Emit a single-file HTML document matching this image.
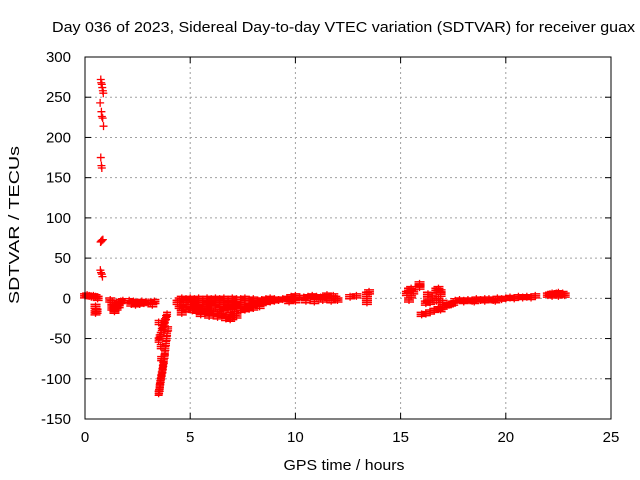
<!DOCTYPE html>
<html><head><meta charset="utf-8"><style>
body{margin:0;background:#fff}
svg{display:block;font-family:"Liberation Sans",sans-serif}
</style></head><body>
<svg id="chart" width="640" height="480" viewBox="0 0 640 480"></svg>
<script>
const xTicks=[0,5,10,15,20,25];
const yTicks=[300,250,200,150,100,50,0,-50,-100,-150];
const spikeT=[0.75,0.77,0.8,0.82,0.85,0.87,0.72,0.78,0.8,0.84,0.88,0.75,0.78,0.8,0.74,0.77,0.8,0.85,0.73,0.76,0.8,0.83];
const spikeV=[272,268,266,262,258,255,243,232,226,224,214,175,165,162,70,71,72,73,35,32,30,27];
const bandT=[0.0,0.1,0.2,0.3,0.4,0.5,0.6,0.5,0.55,0.5,
1.2,1.3,1.4,1.5,1.6,1.7,1.8,1.3,1.4,1.5,1.6,1.4,1.5,
2.1,2.3,2.5,2.7,2.9,2.2,2.4,2.6,2.8,3.0,3.1,3.3,3.2,
4.4,4.5,4.6,4.7,4.8,4.5,4.6,4.7,4.6,4.8,
5.0,5.2,5.4,5.6,5.8,6.0,6.2,6.4,6.6,6.8,7.0,7.2,
5.0,5.2,5.4,5.6,5.8,6.0,6.2,6.4,6.6,6.8,7.0,7.2,
5.0,5.2,5.4,5.6,5.8,6.0,6.2,6.4,6.6,6.8,7.0,7.2,
5.1,5.3,5.5,5.7,5.9,6.1,6.3,6.5,6.7,6.9,7.1,
5.5,5.9,6.3,6.7,6.9,7.0,7.2,
7.4,7.6,7.8,8.0,8.2,8.4,8.6,8.8,9.0,9.2,9.4,
7.4,7.6,7.8,8.0,8.2,8.4,8.6,8.8,9.0,
7.4,7.6,7.8,8.0,8.3,
9.6,9.8,10.0,10.2,9.8,10.0,9.7,
10.4,10.6,10.8,11.0,11.2,11.4,11.6,11.8,10.5,10.9,11.3,11.7,11.5,11.9,12.0,
12.6,12.9,13.4,13.4,13.5,13.4,
15.3,15.4,15.5,15.6,15.4,15.5,15.9,15.9,16.2,16.3,16.4,16.5,16.3,
16.7,16.8,16.9,16.8,16.7,16.9,
16.0,16.2,16.4,16.6,16.8,17.0,17.2,17.4,17.5,17.0,17.3,16.9,
17.6,17.8,18.0,18.2,18.4,18.6,18.8,19.0,19.2,19.4,19.6,19.8,
18.0,18.5,19.0,19.5,
20.0,20.2,20.4,20.6,20.8,21.0,21.2,21.4,
22.0,22.1,22.2,22.3,22.4,22.5,22.6,22.7,22.8,22.2,22.5];
const bandV=[3,4,3,2,3,2,0,-10,-16,-18,
-2,-5,-8,-10,-6,-4,-3,-12,-14,-12,-9,-16,-8,
-3,-4,-5,-4,-5,-7,-8,-7,-6,-5,-5,-4,-8,
-5,-2,0,-3,-1,-10,-12,-8,-18,-14,
0,-1,0,-2,0,-1,0,-1,0,-2,0,-1,
-5,-6,-7,-5,-6,-7,-6,-8,-6,-5,-6,-7,
-10,-11,-12,-11,-13,-12,-12,-14,-13,-12,-11,-12,
-15,-16,-17,-16,-18,-17,-19,-21,-22,-20,-19,
-20,-22,-23,-25,-26,-24,-22,
-1,0,-2,-1,-3,-2,-1,0,-1,-2,-1,
-8,-10,-9,-8,-7,-6,-5,-4,-3,
-15,-14,-13,-12,-10,
0,2,3,1,-2,-3,-4,
1,2,3,2,1,2,0,3,-3,-4,-2,-3,4,0,-2,
2,3,0,5,8,-5,
6,10,3,8,-2,12,14,18,-6,-2,-5,3,5,
10,12,5,0,-3,8,
-20,-19,-17,-15,-13,-11,-9,-7,-6,-5,-8,-14,
-3,-2,-3,-2,-3,-1,-2,-1,-1,-2,0,-1,
-4,-4,-3,-3,
0,1,0,2,1,2,1,3,
4,5,6,5,6,7,5,6,4,3,3];
const dipT=[3.9,3.85,3.8,3.75,3.7,3.65,3.6,3.55,3.5,3.5,
3.95,3.9,3.88,3.85,3.82,3.8,3.78,3.75,3.72,3.7,3.68,3.65,3.62,3.6,3.58,3.56,3.55,3.55,3.52,3.5,3.6,3.62];
const dipV=[-20,-24,-28,-32,-36,-40,-45,-48,-52,-30,
-38,-44,-50,-56,-62,-68,-72,-78,-82,-86,-90,-94,-98,-102,-105,-108,-110,-113,-116,-118,-60,-75];

const svg=document.getElementById('chart');
const NS='http://www.w3.org/2000/svg';
const L=85,R=611,T=57,B=419;
const xs=t=>L+(t-0)/25*(R-L);
const ys=v=>B-(v+150)/450*(B-T);
function mk(tag,attrs,parent){const e=document.createElementNS(NS,tag);for(const k in attrs)e.setAttribute(k,attrs[k]);(parent||svg).appendChild(e);return e;}

const title=mk('text',{x:52,y:32,'font-size':15,fill:'#000',textLength:583,lengthAdjust:'spacingAndGlyphs'});


title.textContent='Day 036 of 2023, Sidereal Day-to-day VTEC variation (SDTVAR) for receiver guax';

const grid=mk('g',{stroke:'#a0a0a0','stroke-width':1,'stroke-dasharray':'2,3'});


xTicks.forEach(t=>{if(t>0&&t<25)mk('line',{x1:xs(t),x2:xs(t),y1:T,y2:B},grid);});
yTicks.forEach(v=>{if(v>-150&&v<300)mk('line',{x1:L,x2:R,y1:ys(v),y2:ys(v)},grid);});

const ticks=mk('g',{stroke:'#000','stroke-width':1});


const xl=mk('g',{'font-size':15,'text-anchor':'middle'});


xTicks.forEach(t=>{const x=xs(t);mk('line',{x1:x,x2:x,y1:B,y2:B-6},ticks);mk('line',{x1:x,x2:x,y1:T,y2:T+6},ticks);
 const s=mk('text',{x:x,y:B+23},xl);s.textContent=t;});
const yl=mk('g',{'font-size':15,'text-anchor':'end'});


yTicks.forEach(v=>{const y=ys(v);mk('line',{x1:L,x2:L+6,y1:y,y2:y},ticks);mk('line',{x1:R,x2:R-6,y1:y,y2:y},ticks);
 const s=mk('text',{x:L-14,y:y+5},yl);s.textContent=v;});

const pts=mk('g',{stroke:'#ff0000','stroke-width':1.3});


function plus(t,v){const x=xs(t),y=ys(v);mk('path',{d:`M${x-4} ${y}H${x+4}M${x} ${y-4}V${y+4}`},pts);}
function drawSet(T_,V_){for(let i=0;i<T_.length;i++){plus(T_[i],V_[i]);}}
drawSet(spikeT,spikeV);drawSet(bandT,bandV);drawSet(dipT,dipV);
const thick=mk('g',{stroke:'#ff0000','stroke-width':1.5});


for(let i=0;i<bandT.length;i++){const x=xs(bandT[i]),y=ys(bandV[i]);mk('path',{d:`M${x-5} ${y-2}H${x+5}M${x-5} ${y+2}H${x+5}M${x-5} ${y}H${x+5}`},thick);}
for(let i=0;i<dipT.length;i++){const x=xs(dipT[i]),y=ys(dipV[i]);mk('path',{d:`M${x-4} ${y-2}H${x+4}M${x-4} ${y+2}H${x+4}`},thick);}

mk('rect',{x:L,y:T,width:R-L,height:B-T,fill:'none',stroke:'#000','stroke-width':1});

const xt=mk('text',{x:344,y:470,'text-anchor':'middle','font-size':15,textLength:121,lengthAdjust:'spacingAndGlyphs'});


xt.textContent='GPS time / hours';
const yt=mk('text',{x:0,y:0,'text-anchor':'middle','font-size':15,textLength:158,lengthAdjust:'spacingAndGlyphs',transform:`translate(19,225) rotate(-90)`});


yt.textContent='SDTVAR / TECUs';
</script>
</body></html>
